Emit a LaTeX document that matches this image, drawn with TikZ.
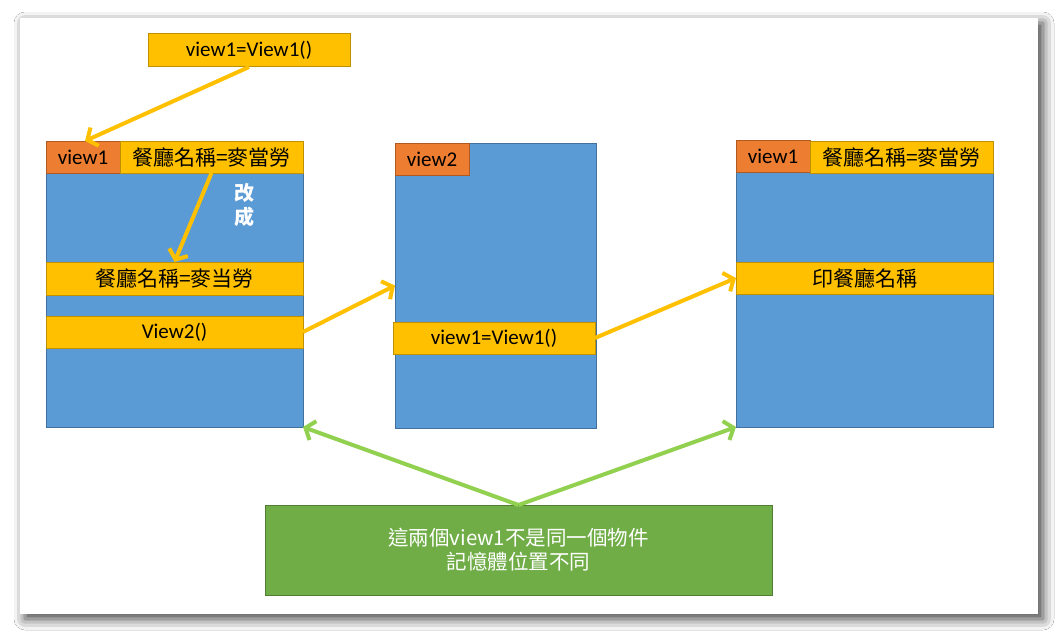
\documentclass[tikz,border=0pt]{standalone}
\usepackage{fontspec}
\setmainfont{Carlito}
\newfontfamily\cjk{Noto Sans CJK TC}
\usetikzlibrary{arrows.meta, positioning, shadows.blur}
\definecolor{sky}{HTML}{5B9BD5}
\definecolor{skyedge}{HTML}{41719C}
\definecolor{amber}{HTML}{FFC000}
\definecolor{amberedge}{HTML}{BF9000}
\definecolor{tangerine}{HTML}{ED7D31}
\definecolor{tangerineedge}{HTML}{AE5A21}
\definecolor{moss}{HTML}{70AD47}
\definecolor{mossedge}{HTML}{507E32}
\definecolor{leaf}{HTML}{92D050}

\begin{document}
\begin{tikzpicture}[x=1pt, y=-1pt,
    every node/.style={font=\fontsize{21}{25}\selectfont, inner sep=0pt, outer sep=0pt},
    mem/.style={fill=sky, draw=skyedge, line width=1pt},
    tag/.style={fill=tangerine, draw=tangerineedge, line width=1pt, minimum width=74pt, minimum height=32pt},
    field/.style={fill=amber, draw=amberedge, line width=1pt, minimum height=32pt},
    flow/.style={amber, line width=4pt, -{Straight Barb[length=8pt, width=20pt, line width=4pt]}},
    link/.style={leaf, line width=4pt, -{Straight Barb[length=8pt, width=20pt, line width=4pt]}}
  ]
    \useasboundingbox (0,0) rectangle (1058,634);
    \fill[white] (0,0) rectangle (1058,634);
    \fill[white, blur shadow={shadow xshift=5pt, shadow yshift=-5pt, shadow blur radius=11pt, shadow opacity=75}]
      (20,18) rectangle (1038,614);

    % first object
    \node[mem, minimum width=257pt, minimum height=286pt] (box1) at (174.5,284) {};
    \node[tag] (v1a) at (83,157) {view1};
    \node[field, minimum width=183pt] (name1) at (211.5,157) {\cjk 餐廳名稱=麥當勞};
    \node[field, minimum width=257pt, minimum height=33pt] (rename) at (174.5,278.5) {\cjk 餐廳名稱=麥当勞};
    \node[field, minimum width=257pt] (call) at (174.5,332) {View2()};
    \node[text=white, font=\fontsize{20}{24}\selectfont\cjk\bfseries, align=center] (chg) at (244,205) {改\\成};

    \node[field, minimum width=202pt, minimum height=33pt] (topbox) at (249,50.5) {view1=View1()};

    % second object
    \node[mem, minimum width=201pt, minimum height=285pt] (box2) at (495.5,285.5) {};
    \node[tag] (v2) at (432,159) {view2};
    \node[field, minimum width=202pt] (newv) at (494,338) {view1=View1()};

    % third object
    \node[mem, minimum width=257pt, minimum height=286pt] (box3) at (864.5,284) {};
    \node[tag] (v1b) at (773,156) {view1};
    \node[field, minimum width=183pt] (name2) at (901.5,157) {\cjk 餐廳名稱=麥當勞};
    \node[field, minimum width=257pt] (print) at (864.5,278) {\cjk 印餐廳名稱};

    % note
    \node[fill=moss, draw=mossedge, line width=1pt, minimum width=507pt, minimum height=90pt,
      text=white, align=center, font=\fontsize{20.5}{24}\selectfont\cjk] (note) at (518.5,550)
      {這兩個view1不是同一個物件\\記憶體位置不同};

    % arrows
    \draw[flow] (topbox.south) -- ([xshift=2pt]v1a.north);
    \draw[flow] (name1.south) -- (rename.north);
    \draw[flow] (call.east) -- (box2.west);
    \draw[flow] (newv.east) -- (print.west);
    \draw[link] (note.north) -- (box1.south east);
    \draw[link] (note.north) -- (box3.south west);
  \end{tikzpicture}
\end{document}
